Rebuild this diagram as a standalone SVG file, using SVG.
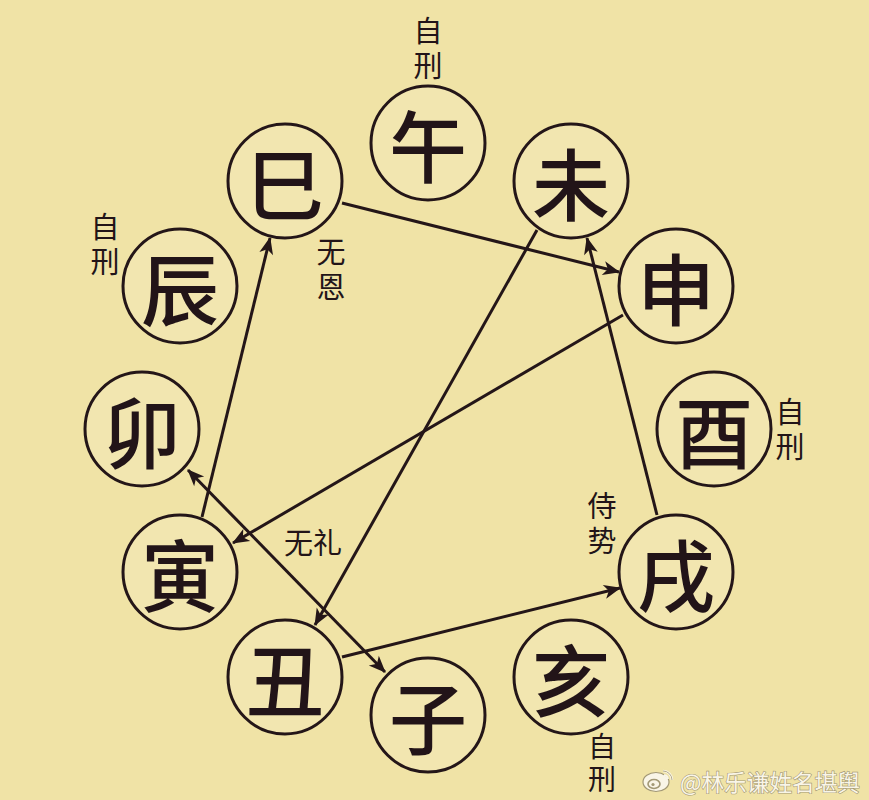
<svg xmlns="http://www.w3.org/2000/svg" width="869" height="800" viewBox="0 0 869 800">
<defs>
<style>
.node circle{fill:#f2e6b0;stroke:#241618;stroke-width:3}
.node text{font-family:"Noto Sans CJK SC","Noto Sans CJK TC",sans-serif;font-size:78px;font-weight:500;fill:#221418;text-anchor:middle;dominant-baseline:central}
.lbl{font-family:"Noto Sans CJK SC","Noto Sans CJK TC",sans-serif;font-size:29px;fill:#221418;text-anchor:middle;dominant-baseline:central}
.v{writing-mode:vertical-rl;letter-spacing:6px}
#connectors line{stroke:#241618;stroke-width:3;fill:none}
.wm{font-family:"Noto Sans CJK SC",sans-serif;font-size:23px;fill:#fbf8ef;stroke:#9a9070;stroke-width:1.2;paint-order:stroke;dominant-baseline:central}
</style>
<marker id="arr" markerUnits="userSpaceOnUse" markerWidth="20" markerHeight="16" refX="16" refY="7" orient="auto-start-reverse" overflow="visible">
<path d="M0,0 L17,7 L0,14 L4.5,7 Z" fill="#241618"/>
</marker>
</defs>
<rect width="869" height="800" fill="#f0e3a6"/>

<g id="connectors">
<line x1="342" y1="203" x2="619" y2="272" marker-end="url(#arr)"/>
<line x1="623" y1="315" x2="233" y2="543" marker-end="url(#arr)"/>
<line x1="202" y1="517" x2="270" y2="238" marker-end="url(#arr)"/>
<line x1="537" y1="230" x2="315" y2="625" marker-end="url(#arr)"/>
<line x1="342" y1="657" x2="620" y2="588" marker-end="url(#arr)"/>
<line x1="657" y1="515" x2="587" y2="238" marker-end="url(#arr)"/>
<line x1="188" y1="470" x2="385" y2="672" marker-start="url(#arr)" marker-end="url(#arr)"/>
</g>

<g id="wu" class="node"><circle cx="428" cy="143" r="57"/><text x="428" y="143">午</text></g>
<g id="wei" class="node"><circle cx="571" cy="181" r="57"/><text x="571" y="181">未</text></g>
<g id="shen" class="node"><circle cx="676" cy="286" r="57"/><text x="676" y="286">申</text></g>
<g id="you" class="node"><circle cx="714" cy="429" r="57"/><text x="714" y="429">酉</text></g>
<g id="xu" class="node"><circle cx="676" cy="572" r="57"/><text x="676" y="572">戌</text></g>
<g id="hai" class="node"><circle cx="571" cy="677" r="57"/><text x="571" y="677">亥</text></g>
<g id="zi" class="node"><circle cx="428" cy="715" r="57"/><text x="428" y="715">子</text></g>
<g id="chou" class="node"><circle cx="285" cy="677" r="57"/><text x="285" y="677">丑</text></g>
<g id="yin" class="node"><circle cx="180" cy="572" r="57"/><text x="180" y="572">寅</text></g>
<g id="mao" class="node"><circle cx="142" cy="429" r="57"/><text x="142" y="429">卯</text></g>
<g id="chen" class="node"><circle cx="180" cy="286" r="57"/><text x="180" y="286">辰</text></g>
<g id="si" class="node"><circle cx="285" cy="181" r="57"/><text x="285" y="181">巳</text></g>

<g id="labels">
<text class="lbl v" x="428" y="51">自刑</text>
<text class="lbl v" x="105" y="247">自刑</text>
<text class="lbl v" x="790" y="432">自刑</text>
<text class="lbl v" x="602" y="765" style="font-size:28px;letter-spacing:5px">自刑</text>
<text class="lbl v" x="331" y="272">无恩</text>
<text class="lbl v" x="602" y="526">侍势</text>
<text class="lbl" x="313" y="541">无礼</text>
</g>

<g id="watermark" opacity="0.9">
<ellipse cx="656" cy="782" rx="13" ry="9.5" fill="#fbf8ef" stroke="#9a9070" stroke-width="1.2"/>
<ellipse cx="654" cy="784" rx="6" ry="4.5" fill="none" stroke="#9a9070" stroke-width="1.6"/>
<circle cx="653" cy="784.5" r="1.6" fill="#9a9070"/>
<path d="M663,771 A9,9 0 0 1 672,780" fill="none" stroke="#fbf8ef" stroke-width="2.6"/>
<path d="M663,771 A9,9 0 0 1 672,780" fill="none" stroke="#9a9070" stroke-width="0.8"/>
<path d="M664,775 A5,5 0 0 1 668,779" fill="none" stroke="#fbf8ef" stroke-width="2.2"/>
<text class="wm" x="680" y="781" textLength="180" lengthAdjust="spacingAndGlyphs">@林乐谦姓名堪舆</text>
</g>
</svg>
